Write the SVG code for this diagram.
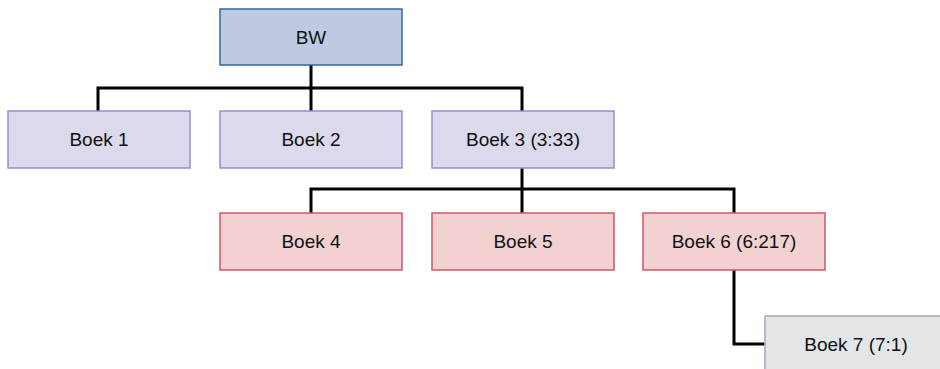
<svg xmlns="http://www.w3.org/2000/svg" width="940" height="369" viewBox="0 0 940 369">
<style>
text{font-family:"Liberation Sans",Arial,sans-serif;font-size:19px;fill:#111;text-anchor:middle}
.c{fill:none;stroke:#000;stroke-width:3}
.top{fill:#bfc9e1;stroke:#2d6aa3;stroke-width:1.5}
.l1{fill:#dcd9ec;stroke:#9a8bc6;stroke-width:1.5}
.l2{fill:#f2d1d1;stroke:#d2566a;stroke-width:1.5}
.l3{fill:#e2e6e9;stroke:#a3abb3;stroke-width:1.5}
</style>
<rect width="940" height="369" fill="#fff"/>
<g id="connectors">
<path class="c" d="M311 65V111M98 111V88H522V111"/>
<path class="c" d="M522 168V213M311 213V189H734V213"/>
<path class="c" d="M734 270V344H766"/>
</g>
<g id="bw"><rect class="top" x="220" y="9" width="182" height="56"/><text x="311" y="44">BW</text></g>
<g id="boek1"><rect class="l1" x="8" y="111" width="182" height="57"/><text x="99" y="146">Boek 1</text></g>
<g id="boek2"><rect class="l1" x="220" y="111" width="182" height="57"/><text x="311" y="146">Boek 2</text></g>
<g id="boek3"><rect class="l1" x="432" y="111" width="182" height="57"/><text x="523" y="146">Boek 3 (3:33)</text></g>
<g id="boek4"><rect class="l2" x="220" y="213" width="182" height="57"/><text x="311" y="248">Boek 4</text></g>
<g id="boek5"><rect class="l2" x="432" y="213" width="182" height="57"/><text x="523" y="248">Boek 5</text></g>
<g id="boek6"><rect class="l2" x="643" y="213" width="182" height="57"/><text x="734" y="248">Boek 6 (6:217)</text></g>
<g id="boek7"><rect class="l3" x="765" y="316" width="190" height="70"/><text x="856" y="351">Boek 7 (7:1)</text></g>
</svg>
